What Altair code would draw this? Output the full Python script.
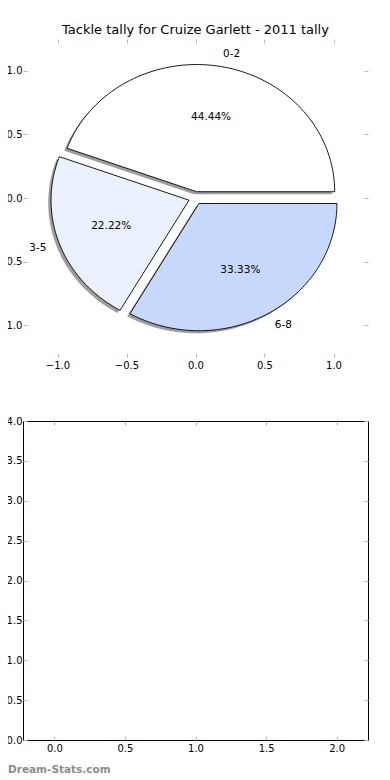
import altair as alt
import pandas as pd

# ---------------- data ----------------
categories = ["0-2", "3-5", "6-8"]
tallies = [4, 2, 3]
slice_colors = ["#ffffff", "#ebf1fe", "#c6d9fd"]
chart_title = "Tackle tally for Cruize Garlett - 2011 tally"
watermark = "Dream-Stats.com"
pie_ticks = [-1.0, -0.5, 0.0, 0.5, 1.0]
lower_x_ticks = [0.0, 0.5, 1.0, 1.5, 2.0]
lower_y_ticks = [0.0, 0.5, 1.0, 1.5, 2.0, 2.5, 3.0, 3.5, 4.0]
pie_domain = [-1.25, 1.25]
lower_x_domain = [-0.222, 2.222]
lower_y_domain = [0.0, 4.0]

# ---------------- style ----------------
FONT = "DejaVu Sans"
TICK_GRAY = "#b8b8b8"
SHADOW_GRAY = "#4d4d4d"
EXPLODE = 0.05
SHADOW_OFFSET = -0.02
LABEL_DIST = 1.1
PCT_DIST = 0.6
ARC_STEPS = 90
PANEL_W = 345


def make_axis(orient, values, show_labels):
    pad = 1 if orient == "left" else 3
    return alt.Axis(
        orient=orient, values=values, format=".1f", offset=-4, tickSize=4,
        tickWidth=1, tickColor=TICK_GRAY, domain=False, grid=False, title=None,
        labels=show_labels, labelFont=FONT, labelFontSize=10, labelColor="black",
        labelPadding=pad, labelFlush=False, labelOverlap=False,
        minExtent=0,
    )


slices = pd.DataFrame({"cat": categories, "value": tallies,
                       "idx": list(range(len(categories)))})

pie_x = alt.Scale(domain=pie_domain, nice=False, zero=False)
pie_y = alt.Scale(domain=pie_domain, nice=False, zero=False)

base = (
    alt.Chart(slices)
    .transform_joinaggregate(total="sum(value)")
    .transform_window(cum="sum(value)", sort=[alt.SortField("idx", order="ascending")],
                      frame=[None, 0])
    .transform_calculate(a0="2*PI*(datum.cum - datum.value)/datum.total")
    .transform_calculate(a1="2*PI*datum.cum/datum.total")
    .transform_calculate(mid="(datum.a0 + datum.a1)/2")
    .transform_calculate(cx=f"{EXPLODE}*cos(datum.mid)")
    .transform_calculate(cy=f"{EXPLODE}*sin(datum.mid)")
)

geom = (
    base
    .transform_calculate(step=f"sequence(-1, {ARC_STEPS + 2})")
    .transform_flatten(["step"])
    .transform_calculate(k=f"clamp(datum.step, 0, {ARC_STEPS})/{ARC_STEPS}")
    .transform_calculate(rr=f"(datum.step < 0 || datum.step > {ARC_STEPS}) ? 0 : 1")
    .transform_calculate(ang="datum.a0 + (datum.a1 - datum.a0)*datum.k")
    .transform_calculate(px="datum.cx + datum.rr*cos(datum.ang)")
    .transform_calculate(py="datum.cy + datum.rr*sin(datum.ang)")
    .transform_calculate(sx=f"datum.px + ({SHADOW_OFFSET})")
    .transform_calculate(sy=f"datum.py + ({SHADOW_OFFSET})")
)

shadow = geom.mark_line(
    filled=True, fill=SHADOW_GRAY, fillOpacity=0.55, strokeWidth=0,
    interpolate="linear-closed",
).encode(
    x=alt.X("sx:Q", scale=pie_x, axis=make_axis("bottom", pie_ticks, True)),
    y=alt.Y("sy:Q", scale=pie_y, axis=make_axis("left", pie_ticks, True)),
    detail="cat:N",
    order=alt.Order("step:Q"),
)

wedges = geom.mark_line(
    filled=True, stroke="black", strokeWidth=0.9, interpolate="linear-closed",
).encode(
    x=alt.X("px:Q", scale=pie_x, axis=make_axis("top", pie_ticks, False)),
    y=alt.Y("py:Q", scale=pie_y, axis=make_axis("right", pie_ticks, False)),
    fill=alt.Fill("cat:N", scale=alt.Scale(domain=categories, range=slice_colors),
                  legend=None),
    detail="cat:N",
    order=alt.Order("step:Q"),
)

pct = (
    base
    .transform_calculate(tx=f"datum.cx + {PCT_DIST}*cos(datum.mid)")
    .transform_calculate(ty=f"datum.cy + {PCT_DIST}*sin(datum.mid)")
    .transform_calculate(pct="format(100*datum.value/datum.total, '.2f') + '%'")
    .mark_text(font=FONT, fontSize=10.5, color="black", align="center", baseline="middle")
    .encode(x=alt.X("tx:Q", scale=pie_x, axis=None),
            y=alt.Y("ty:Q", scale=pie_y, axis=None),
            text="pct:N")
)

lab_base = (
    base
    .transform_calculate(lx=f"datum.cx + {LABEL_DIST}*cos(datum.mid)")
    .transform_calculate(ly=f"datum.cy + {LABEL_DIST}*sin(datum.mid)")
)
lab_enc = dict(x=alt.X("lx:Q", scale=pie_x, axis=None),
               y=alt.Y("ly:Q", scale=pie_y, axis=None),
               text="cat:N")
lab_right = (lab_base.transform_filter("datum.lx > 0")
             .mark_text(font=FONT, fontSize=10.5, color="black", align="left",
                        baseline="middle")
             .encode(**lab_enc))
lab_left = (lab_base.transform_filter("datum.lx <= 0")
            .mark_text(font=FONT, fontSize=10.5, color="black", align="right",
                       baseline="middle")
            .encode(**lab_enc))

top = (
    alt.layer(shadow, wedges, pct, lab_right, lab_left)
    .resolve_axis(x="independent", y="independent")
    .properties(
        width=PANEL_W, height=318,
        view=alt.ViewBackground(strokeOpacity=0),
        title=alt.TitleParams(chart_title, font=FONT, fontSize=13, fontWeight="normal",
                              color="black", anchor="middle", offset=-8,
                              baseline="alphabetic"),
    )
)

# ---------------- lower (empty) panel ----------------
empty = pd.DataFrame({"x": pd.Series([], dtype=float), "y": pd.Series([], dtype=float)})
lx_scale = alt.Scale(domain=lower_x_domain, nice=False, zero=False)
ly_scale = alt.Scale(domain=lower_y_domain, nice=False, zero=False)

low1 = alt.Chart(empty).mark_point(opacity=0).encode(
    x=alt.X("x:Q", scale=lx_scale, axis=make_axis("bottom", lower_x_ticks, True)),
    y=alt.Y("y:Q", scale=ly_scale, axis=make_axis("left", lower_y_ticks, True)),
)
low2 = alt.Chart(empty).mark_point(opacity=0).encode(
    x=alt.X("x:Q", scale=lx_scale, axis=make_axis("top", lower_x_ticks, False)),
    y=alt.Y("y:Q", scale=ly_scale, axis=make_axis("right", lower_y_ticks, False)),
)
bottom = (
    alt.layer(low1, low2)
    .resolve_axis(x="independent", y="independent")
    .properties(
        width=PANEL_W, height=319,
        view=alt.ViewBackground(stroke="black", strokeWidth=1, strokeOpacity=1),
        title=alt.TitleParams(watermark, orient="bottom", anchor="start", frame="group",
                              dx=-15, font=FONT, fontSize=10.5, fontWeight="bold",
                              color="#8c8c8c", offset=12, baseline="top"),
    )
)

chart = (
    alt.vconcat(top, bottom, spacing=64, bounds="flush")
    .properties(padding={"left": -11, "top": 15, "right": 0, "bottom": 0},
                background="white")
    .configure(font=FONT)
)

chart.save("out.html", embed_options={"renderer": "svg", "actions": False})
